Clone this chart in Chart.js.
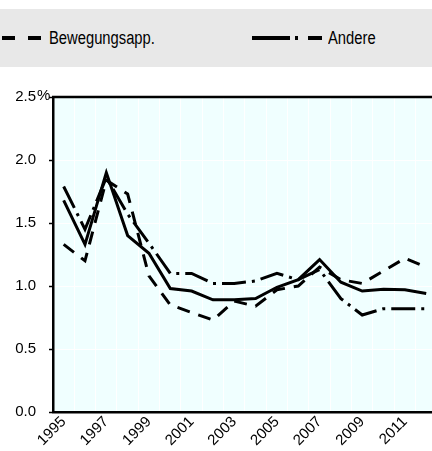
<!DOCTYPE html>
<html>
<head>
<meta charset="utf-8">
<script src="https://cdn.jsdelivr.net/npm/chart.js@4.4.1/dist/chart.umd.min.js"></script>
<style>
  html, body { margin: 0; padding: 0; width: 432px; height: 451px; overflow: hidden; background: #fff; }
  #wrap { position: absolute; left: 0; top: 0; width: 440px; height: 451px; }
  #legend { position: absolute; left: 0; top: 9px; width: 432px; height: 58px; background: #e8e8e8;
    font-family: 'Liberation Sans', Arial, sans-serif; font-size: 18px; color: #000; z-index: 2; }
  .item { position: absolute; top: 0; height: 58px; display: flex; align-items: center; }
  .item span { display: inline-block; transform: scaleX(0.82); transform-origin: left center; white-space: nowrap; }
  .item svg { margin-right: 6px; }
</style>
</head>
<body>
<div id="legend">
  <div class="item" style="left:0px"><svg width="43" height="6"><line x1="2" y1="3" x2="42" y2="3" stroke="#000" stroke-width="4" stroke-dasharray="13 13"/></svg><span id="l1"></span></div>
  <div class="item" style="left:252px"><svg width="70" height="6"><line x1="0" y1="3" x2="70" y2="3" stroke="#000" stroke-width="4" stroke-dasharray="38 5 3 10 14 0"/></svg><span id="l2"></span></div>
</div>
<div id="wrap"><canvas id="c" width="440" height="451"></canvas></div>
<script>
const years = ['1995','1996','1997','1998','1999','2000','2001','2002','2003','2004','2005','2006','2007','2008','2009','2010','2011','2012'];
const seriesNames = ['Insgesamt', 'Bewegungsapp.', 'Andere'];
const insgesamt = [1.68,1.33,1.90,1.40,1.26,0.98,0.96,0.89,0.89,0.90,0.99,1.05,1.21,1.03,0.96,0.975,0.97,0.94];
const bewegung  = [1.33,1.20,1.84,1.73,1.08,0.85,0.79,0.73,0.88,0.84,0.97,1.00,1.15,1.05,1.02,1.12,1.22,1.15];
const andere    = [1.79,1.45,1.86,1.57,1.34,1.10,1.10,1.02,1.02,1.04,1.10,1.05,1.13,0.90,0.77,0.82,0.82,0.82];
const yTicks = [0, 0.5, 1.0, 1.5, 2.0, 2.5];

document.getElementById('l1').textContent = seriesNames[1];
document.getElementById('l2').textContent = seriesNames[2];

const FONT = "'Liberation Sans', Arial, sans-serif";

const bgPlugin = {
  id: 'bg',
  beforeDraw(chart) {
    const {ctx, chartArea: a} = chart;
    ctx.save();
    ctx.fillStyle = '#f0ffff';
    ctx.fillRect(a.left, a.top, a.right - a.left, a.bottom - a.top);
    ctx.restore();
  },
  afterDraw(chart) {
    const {ctx, chartArea: a} = chart;
    ctx.save();
    ctx.strokeStyle = '#000';
    ctx.lineWidth = 2.5;
    ctx.beginPath();
    ctx.moveTo(a.left - 1, a.top);
    ctx.lineTo(a.right + 2, a.top);
    ctx.stroke();
    ctx.fillStyle = '#000';
    ctx.font = '15px ' + FONT;
    ctx.textAlign = 'left';
    ctx.textBaseline = 'middle';
    const ys = chart.scales.y.getPixelForValue(2.5);
    ctx.fillText('%', 37, ys - 1);
    ctx.restore();
  }
};

new Chart(document.getElementById('c'), {
  type: 'line',
  data: {
    labels: years,
    datasets: [
      { label: seriesNames[0], data: insgesamt, borderColor: '#000', borderWidth: 3, pointRadius: 0, tension: 0, fill: false },
      { label: seriesNames[1], data: bewegung, borderColor: '#000', borderWidth: 3, borderDash: [13, 9], pointRadius: 0, tension: 0, fill: false },
      { label: seriesNames[2], data: andere, borderColor: '#000', borderWidth: 3, borderDash: [24, 6, 3, 6], pointRadius: 0, tension: 0, fill: false }
    ]
  },
  options: {
    responsive: false,
    animation: false,
    layout: { padding: { top: 97, right: 2, left: 0, bottom: 0 } },
    plugins: { legend: { display: false }, tooltip: { enabled: false } },
    scales: {
      x: {
        offset: true,
        grid: { offset: true, color: '#ffffff', lineWidth: 1, drawTicks: false },
        border: { color: '#000', width: 2.5 },
        ticks: {
          color: '#000', font: { family: FONT, size: 15 },
          autoSkip: false, maxRotation: 45, minRotation: 45, padding: 1,
          callback: function(v, i) { return i % 2 === 0 ? years[i] : ''; }
        },
        afterFit(scale) { scale.height = 39; }
      },
      y: {
        min: 0, max: 2.5,
        afterBuildTicks(scale) { scale.ticks = yTicks.map(v => ({ value: v })); },
        grid: { color: '#ffffff', lineWidth: 1, drawTicks: true, tickLength: 4, tickColor: '#000', tickWidth: 1.5 },
        border: { color: '#000', width: 2.5 },
        ticks: {
          color: '#000', font: { family: FONT, size: 15 }, padding: 13,
          callback: function(v) { return Number(v).toFixed(1); }
        },
        afterFit(scale) { scale.width = 53; }
      }
    }
  },
  plugins: [bgPlugin]
});
</script>
</body>
</html>
